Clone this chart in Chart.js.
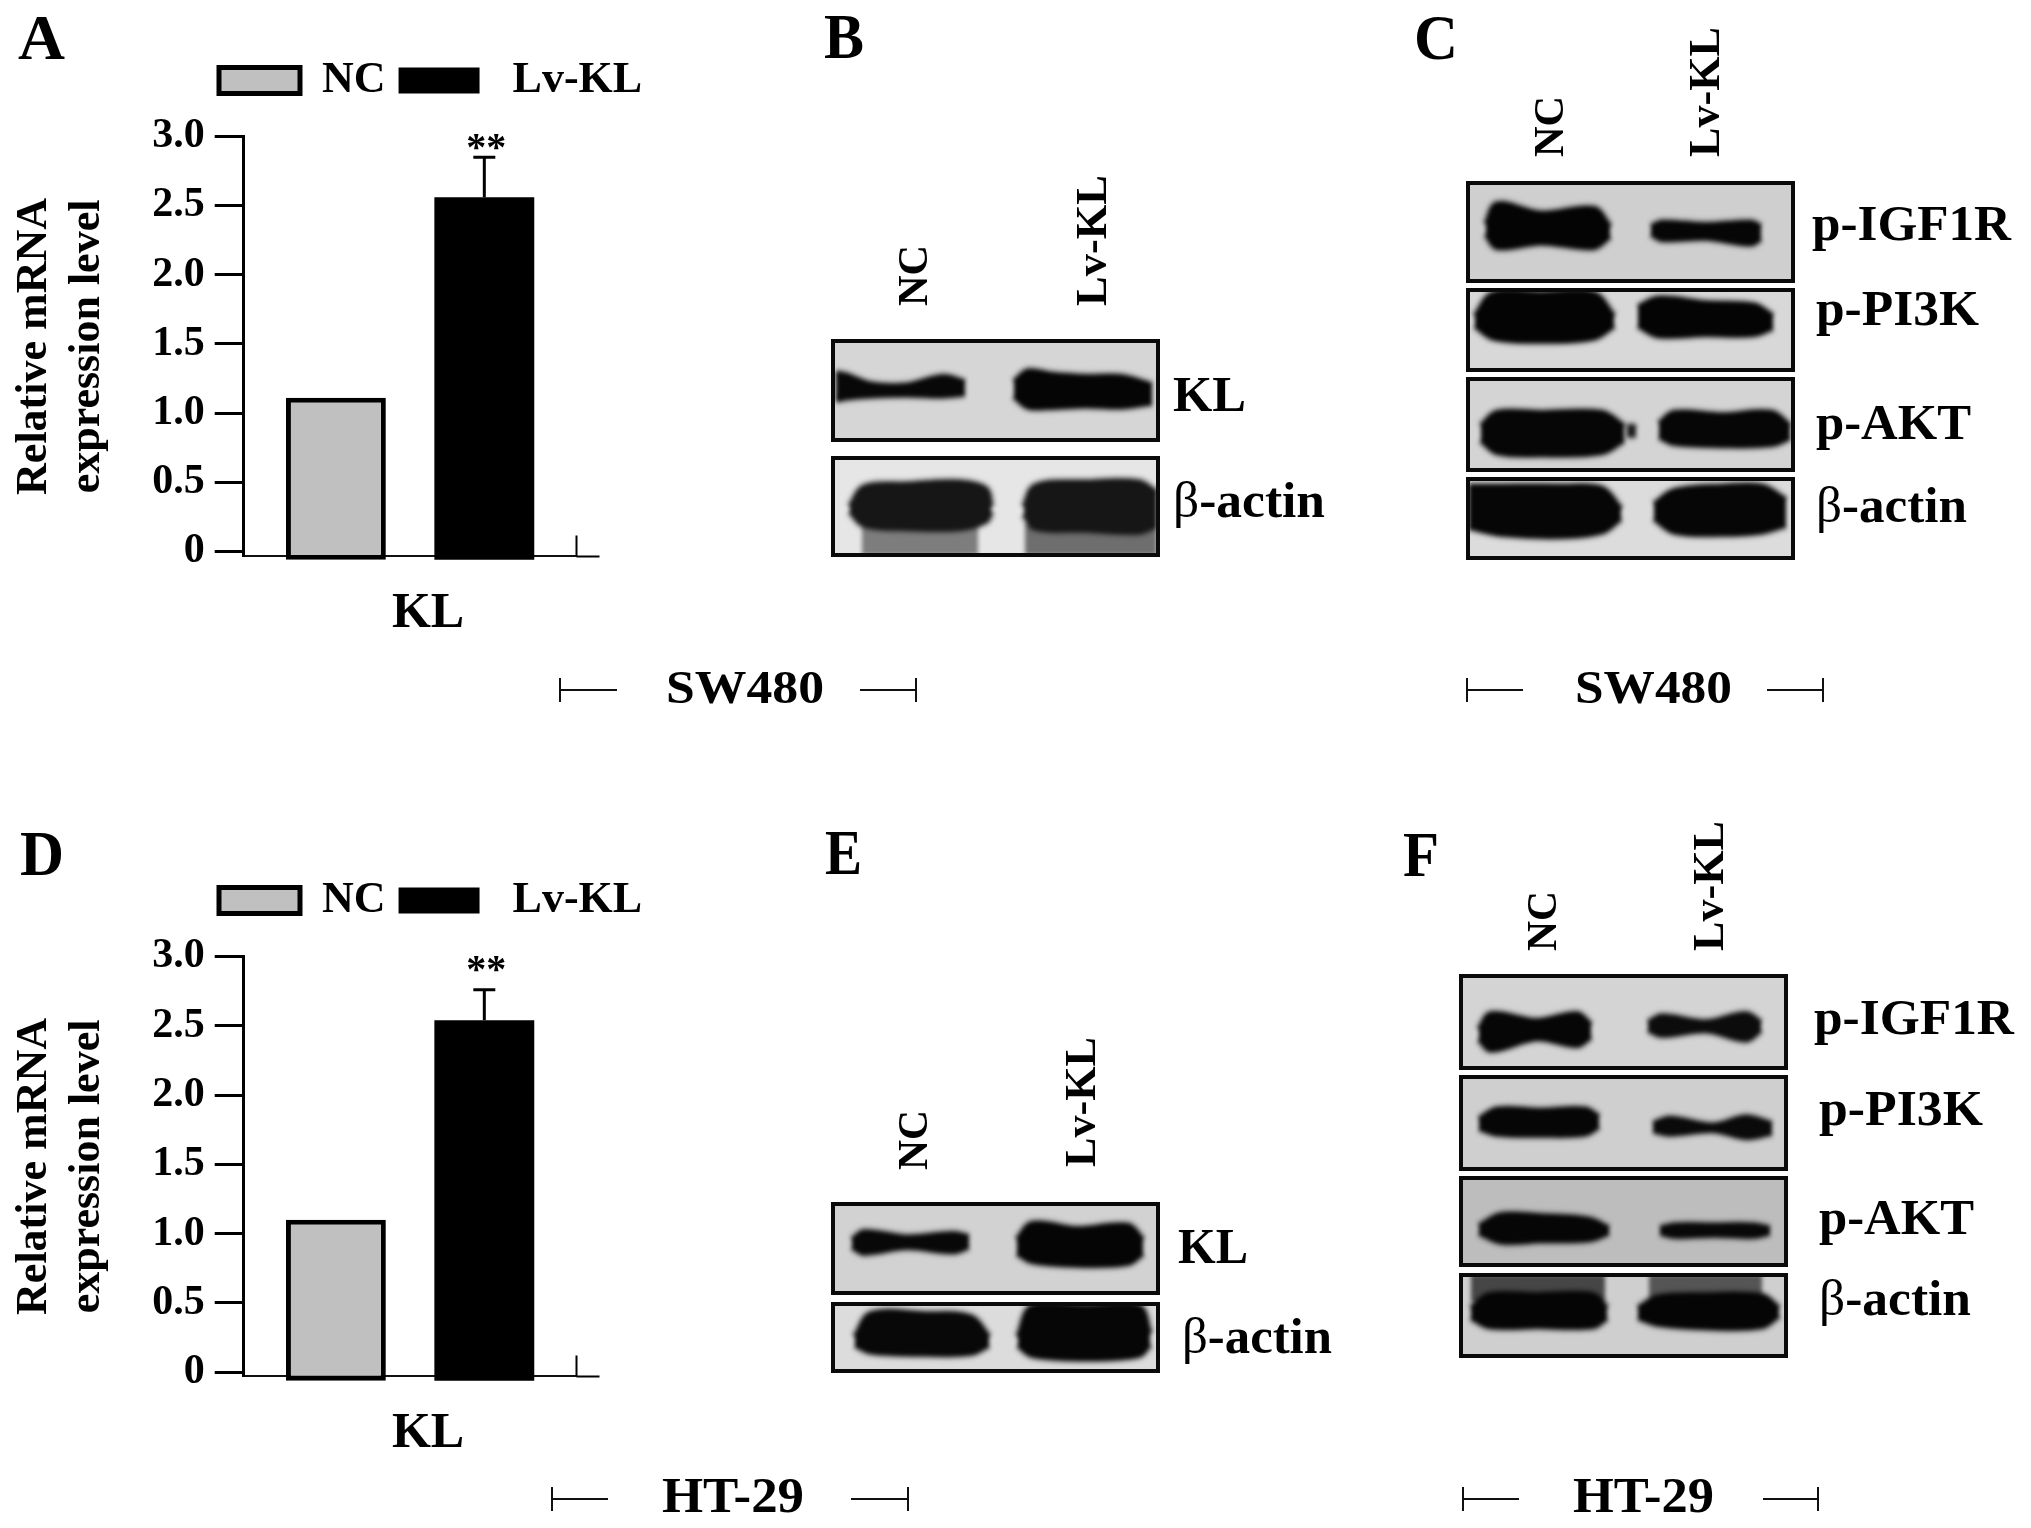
<!DOCTYPE html>
<html>
<head>
<meta charset="utf-8">
<title>KL figure</title>
<script src="https://cdn.jsdelivr.net/npm/chart.js@4/dist/chart.umd.min.js"></script>
<style>
  html, body { margin: 0; padding: 0; background: #fff; }
  #page { position: relative; width: 2031px; height: 1528px; overflow: hidden; background: #fff; }
  #page > canvas { position: absolute; }
  .blot { position: absolute; overflow: hidden; }
  .blot canvas { position: absolute; left: 0; top: 0; filter: blur(2.2px); }
  .blot::after { content: ''; position: absolute; inset: 0; border: 4px solid #0a0a0a; box-sizing: border-box; }
  #labels { position: absolute; left: 0; top: 0; }
  #labels text { font-family: "Liberation Serif", serif; font-weight: 700; fill: #000; }
  #labels line { stroke: #111; stroke-width: 2; }
</style>
</head>
<body>
<div id="page"></div>
<script>
var FONT = '"Liberation Serif", serif';

// bar charts (A, D)
var barCategories = ['KL'];
var seriesNames = ['NC', '\u00a0Lv-KL'];
var yTickValues = [0, 0.5, 1, 1.5, 2, 2.5, 3];
var yTickLabels = ['0', '0.5', '1.0', '1.5', '2.0', '2.5', '3.0'];
var ncValuesA = [1.11];
var lvValuesA = [2.56];
var lvErrorTopA = [2.85];
var ncValuesD = [1.10];
var lvValuesD = [2.54];
var lvErrorTopD = [2.76];

// blot bands: [lane x, upper edge, lower edge, grey level]
var bandsBKL = [
  [[5, 15, 40, 76, 112, 134], [34, 36, 45, 46, 37.5, 43], [61, 59, 57, 56, 57, 55], 8],
  [[183, 197, 219, 255, 290, 321], [43, 32, 35, 37.5, 37.5, 46], [57, 68, 68.5, 67, 68, 64], 5]
];
var bandsBActin = [
  [[19, 33, 76, 129, 155, 160], [51, 31, 28, 26, 33, 51], [55, 69, 72.5, 72.5, 65, 55], 22],
  [[193, 204, 255, 308, 326], [51, 30, 26, 26, 37], [58, 72, 74, 76, 69], 22],
  [[31, 90, 147], [65, 65, 65], [97, 97, 97], 125],
  [[194, 260, 326], [70, 70, 70], [97, 97, 97], 110]
];
var bandsCIgf = [
  [[20, 31, 75, 128, 144], [38, 20, 28, 24, 40], [46, 58, 54, 58, 48], 4],
  [[185, 196, 240, 285, 295], [40, 36, 38, 36, 40], [46, 51, 50, 55, 50], 6]
];
var bandsCPi3k = [
  [[9, 27, 75, 128, 148], [25, 5, 5, 5, 25], [33, 44, 47, 44, 33], 4],
  [[172, 192, 240, 288, 307], [17, 9, 13, 15, 25], [33, 42, 41, 41, 35], 4]
];
var bandsCAkt = [
  [[15, 31, 75, 136, 158], [43, 31, 31, 31, 43], [55, 66, 68, 66, 55], 6],
  [[193, 208, 256, 306, 324], [41, 31, 33, 31, 43], [52, 58, 60, 59, 53], 6],
  [[161, 165, 170], [45, 43, 45], [50, 51, 50], 30]
];
var bandsCActin = [
  [[3, 35, 96, 136, 155], [8, 8, 8, 10, 28], [44, 50, 52, 48, 36], 6],
  [[188, 208, 256, 296, 320], [24, 12, 8, 8, 20], [36, 48, 50, 48, 42], 6]
];
var bandsEKL = [
  [[21, 33, 76, 122, 138], [41, 32, 37.5, 34, 37.5], [48, 55, 49, 53.6, 48], 8],
  [[186, 201, 247, 297, 312], [41, 23, 28.6, 25, 41], [55, 64, 68, 66, 55], 5]
];
var bandsEActin = [
  [[24, 40, 94, 140, 158], [37.5, 12.5, 12.5, 16, 37.5], [46, 53.6, 56, 55, 46], 8],
  [[187, 201, 255, 308, 319], [37.5, 5, 5, 5, 34], [46, 57, 61, 57, 45], 6]
];
var bandsFIgf = [
  [[20, 32, 78, 118, 132], [49, 35, 41, 35, 45], [57, 67, 57, 63, 55], 6],
  [[189, 203, 247, 287, 302], [43, 37, 42, 35, 43], [49, 54, 50, 58, 49], 12]
];
var bandsFPi3k = [
  [[20, 38, 82, 126, 140], [39, 30, 31, 30, 37], [47, 52, 53, 52, 45], 6],
  [[194, 211, 255, 287, 313], [43, 38, 44, 37, 43], [49, 52, 49, 55, 51], 10]
];
var bandsFAkt = [
  [[20, 42, 82, 130, 150], [44, 34, 35, 38, 46], [50, 58, 57, 56, 50], 6],
  [[201, 215, 255, 295, 311], [46, 43, 43, 43, 46], [50, 53, 52, 53, 50], 8]
];
var bandsFActin = [
  [[12, 30, 78, 134, 148], [31, 19, 19, 19, 31], [39, 47, 47, 47, 39], 5],
  [[179, 199, 247, 303, 320], [31, 21, 19, 20, 31], [39, 45, 48, 47, 37], 5],
  [[12, 80, 146], [3, 3, 3], [23, 23, 23], 70],
  [[190, 250, 303], [3, 3, 3], [23, 23, 23], 85]
];

var page = document.getElementById('page');

// error bars, stars and the stub of the baseline, all from the chart's scales
var barExtras = {
  id: 'barExtras',
  afterLayout: function(chart) {
    // the legend is wider than the plot and sits above it, so fit it again and place it by hand
    var l = chart.legend;
    l.maxWidth = 660;
    l.fit();
    l.left = 206;
    l.top = chart.options.legendTop;
    l.right = l.left + 470;
    l.bottom = l.top + l.height;
  },
  afterDatasetsDraw: function(chart, args, opts) {
    var c = chart.ctx, y = chart.scales.y, area = chart.chartArea;
    var bar = chart.getDatasetMeta(1).data[0];
    var top = y.getPixelForValue(opts.errorTop[0]);
    c.save();
    c.strokeStyle = '#000';
    c.lineWidth = 3;
    c.beginPath();
    c.moveTo(bar.x, top); c.lineTo(bar.x, bar.y);
    c.moveTo(bar.x - 11, top); c.lineTo(bar.x + 11, top);
    c.stroke();
    c.lineWidth = 2;
    c.beginPath();
    c.moveTo(area.right, area.bottom); c.lineTo(area.right + 23, area.bottom);
    c.moveTo(area.right, area.bottom); c.lineTo(area.right, area.bottom - 21);
    c.stroke();
    c.fillStyle = '#000';
    c.font = 'bold 40px ' + FONT;
    c.textAlign = 'center';
    c.textBaseline = 'alphabetic';
    c.fillText('**', bar.x + 2, opts.starY);
    c.restore();
  }
};

function makeBarChart(top, ncValues, lvValues, errorTop, base, yMin, starY) {
  var cv = document.createElement('canvas');
  cv.width = 680; cv.height = 660;
  cv.style.left = '0px'; cv.style.top = top + 'px';
  page.appendChild(cv);
  return new Chart(cv.getContext('2d'), {
    type: 'bar',
    data: {
      labels: barCategories,
      datasets: [
        { label: seriesNames[0], data: ncValues, backgroundColor: '#c0c0c0', borderColor: '#000', borderWidth: 5,
          borderSkipped: false, base: base, clip: false },
        { label: seriesNames[1], data: lvValues, backgroundColor: '#000', borderColor: '#000', borderWidth: 0,
          base: base, clip: false }
      ]
    },
    options: {
      responsive: false,
      animation: false,
      legendTop: 45.5,
      devicePixelRatio: 1,
      categoryPercentage: 0.892,
      barPercentage: 0.673,
      layout: { padding: { top: 69.5, right: 103.5, bottom: 14, left: 0 } },
      plugins: {
        tooltip: { enabled: false },
        barExtras: { errorTop: errorTop, starY: starY },
        legend: {
          position: 'top',
          align: 'start',
          labels: { boxWidth: 81, boxHeight: 26, padding: 13, color: '#000', font: { family: FONT, size: 44, weight: 'bold' } }
        }
      },
      scales: {
        x: {
          grid: { display: false, drawTicks: false },
          border: { color: '#111', width: 2 },
          ticks: { color: '#000', padding: 28, labelOffset: 18, font: { family: FONT, size: 50, weight: 'bold' } },
          afterFit: function(s) { s.height = 89.6; }
        },
        y: {
          min: yMin,
          max: 3,
          afterBuildTicks: function(s) { s.ticks = yTickValues.map(function(v) { return { value: v }; }); },
          afterFit: function(s) { s.width = 243.7; },
          grid: { drawOnChartArea: false, drawTicks: true, tickLength: 29, tickWidth: 3, tickColor: '#000' },
          border: { color: '#000', width: 3 },
          ticks: {
            color: '#000', padding: 10, font: { family: FONT, size: 42, weight: 'bold' },
            callback: function(v, i) { return yTickLabels[i]; }
          },
          title: {
            display: true,
            text: ['Relative mRNA', 'expression level'],
            color: '#000',
            padding: { top: 8, bottom: 0 },
            font: { family: FONT, size: 44, weight: 'bold', lineHeight: 1.2 }
          }
        }
      }
    },
    plugins: [barExtras]
  });
}

makeBarChart(0, ncValuesA, lvValuesA, lvErrorTopA, -0.061, -0.037, 160);
makeBarChart(820, ncValuesD, lvValuesD, lvErrorTopD, -0.061, -0.03, 162);

// one small scatter chart per gel strip, bands are filled between two edge lines
function makeBlot(left, top, width, height, xMax, yMax, bg, bands) {
  var box = document.createElement('div');
  box.className = 'blot';
  box.style.cssText = 'left:' + left + 'px;top:' + top + 'px;width:' + width + 'px;height:' + height + 'px;background:' + bg;
  var cv = document.createElement('canvas');
  cv.width = width; cv.height = height;
  box.appendChild(cv);
  page.appendChild(box);
  var sets = [];
  bands.forEach(function(b) {
    var col = 'rgb(' + b[3] + ',' + b[3] + ',' + b[3] + ')';
    var halo = 'rgba(30,30,30,0.3)';
    function pts(ys) { return b[0].map(function(x, i) { return { x: x, y: ys[i] }; }); }
    sets.push({ data: pts(b[1]), showLine: true, fill: '+1', backgroundColor: col, borderColor: col, borderWidth: 4, tension: 0.35, pointRadius: 0 });
    sets.push({ data: pts(b[2]), showLine: true, fill: false, borderColor: col, borderWidth: 4, tension: 0.35, pointRadius: 0 });
    // soft edge round the dense core, only on dark bands
    if (b[3] < 40) {
      sets.push({ data: pts(b[1]), showLine: true, fill: false, borderColor: halo, borderWidth: 10, tension: 0.35, pointRadius: 0 });
      sets.push({ data: pts(b[2]), showLine: true, fill: false, borderColor: halo, borderWidth: 10, tension: 0.35, pointRadius: 0 });
    }
  });
  return new Chart(cv.getContext('2d'), {
    type: 'scatter',
    data: { datasets: sets },
    options: {
      responsive: false,
      animation: false,
      devicePixelRatio: 1,
      layout: { padding: 0 },
      plugins: { legend: { display: false }, tooltip: { enabled: false } },
      scales: {
        x: { display: false, min: 0, max: xMax },
        y: { display: false, min: 0, max: yMax, reverse: true }
      }
    }
  });
}

makeBlot(831, 339, 329, 103, 329, 103, '#d6d6d6', bandsBKL);
makeBlot(831, 456, 329, 101, 329, 101, '#e6e6e6', bandsBActin);
makeBlot(1466, 181, 329, 102, 329, 89, '#cfcfcf', bandsCIgf);
makeBlot(1466, 288, 329, 84, 329, 74, '#d8d8d8', bandsCPi3k);
makeBlot(1466, 377, 329, 95, 329, 83, '#d4d4d4', bandsCAkt);
makeBlot(1466, 477, 329, 83, 329, 72.5, '#dcdcdc', bandsCActin);
makeBlot(831, 1202, 329, 93, 329, 100, '#d2d2d2', bandsEKL);
makeBlot(831, 1302, 329, 71, 329, 76, '#dcdcdc', bandsEActin);
makeBlot(1459, 974, 329, 96, 329, 84.5, '#d4d4d4', bandsFIgf);
makeBlot(1459, 1075, 329, 96, 329, 84.5, '#cfcfcf', bandsFPi3k);
makeBlot(1459, 1176, 329, 91, 329, 80, '#bdbdbd', bandsFAkt);
makeBlot(1459, 1273, 329, 85, 329, 74.5, '#cfcfcf', bandsFActin);

// text that sits outside the plots: [text, x, baseline y, size, length, rotated]
var BETA = '<tspan font-weight="400">\u03b2</tspan>-actin';
var pageLabels = [
  ['A', 18, 59, 64, 47], ['B', 824, 58, 64, 40], ['C', 1414, 59, 64, 44],
  ['D', 20, 875, 64, 44], ['E', 825, 874, 64, 37], ['F', 1403, 876, 64, 36],
  ['NC', 927, 306, 42, 61, 1], ['Lv-KL', 1106, 306, 44, 131, 1],
  ['KL', 1173, 411, 50, 73], [BETA, 1173, 517, 50, 152],
  ['NC', 1563, 157, 42, 61, 1], ['Lv-KL', 1719, 157, 44, 130, 1],
  ['p-IGF1R', 1812, 240, 50, 199], ['p-PI3K', 1816, 325, 50, 163], ['p-AKT', 1816, 439, 50, 155], [BETA, 1816, 522, 50, 151],
  ['SW480', 666, 703, 46, 158], ['SW480', 1575, 703, 46, 157],
  ['NC', 927, 1170, 42, 60, 1], ['Lv-KL', 1095, 1167, 44, 130, 1],
  ['KL', 1178, 1263, 50, 70], [BETA, 1182, 1353, 50, 150],
  ['NC', 1556, 951, 42, 60, 1], ['Lv-KL', 1723, 951, 44, 130, 1],
  ['p-IGF1R', 1814, 1034, 50, 200], ['p-PI3K', 1819, 1125, 50, 164], ['p-AKT', 1819, 1234, 50, 155], [BETA, 1819, 1315, 50, 152],
  ['HT-29', 662, 1512, 50, 142], ['HT-29', 1573, 1512, 50, 141]
];
// cell-line brackets: [left end, inner left, inner right, right end, y]
var brackets = [
  [560, 617, 860, 916, 690], [1467, 1523, 1767, 1823, 690],
  [552, 608, 851, 908, 1499], [1463, 1519, 1763, 1818, 1499]
];

var svg = '<svg id="labels" xmlns="http://www.w3.org/2000/svg" width="2031" height="1528">';
pageLabels.forEach(function(t) {
  var rot = t[5] ? ' transform="rotate(-90 ' + t[1] + ' ' + t[2] + ')"' : '';
  svg += '<text x="' + t[1] + '" y="' + t[2] + '" font-size="' + t[3] + '" textLength="' + t[4] + '" lengthAdjust="spacingAndGlyphs"' + rot + '>' + t[0] + '</text>';
});
brackets.forEach(function(b) {
  svg += '<line x1="' + b[0] + '" y1="' + b[4] + '" x2="' + b[1] + '" y2="' + b[4] + '"/>';
  svg += '<line x1="' + b[2] + '" y1="' + b[4] + '" x2="' + b[3] + '" y2="' + b[4] + '"/>';
  svg += '<line x1="' + b[0] + '" y1="' + (b[4] - 12) + '" x2="' + b[0] + '" y2="' + (b[4] + 12) + '"/>';
  svg += '<line x1="' + b[3] + '" y1="' + (b[4] - 12) + '" x2="' + b[3] + '" y2="' + (b[4] + 12) + '"/>';
});
svg += '</svg>';
page.insertAdjacentHTML('beforeend', svg);
</script>
</body>
</html>
